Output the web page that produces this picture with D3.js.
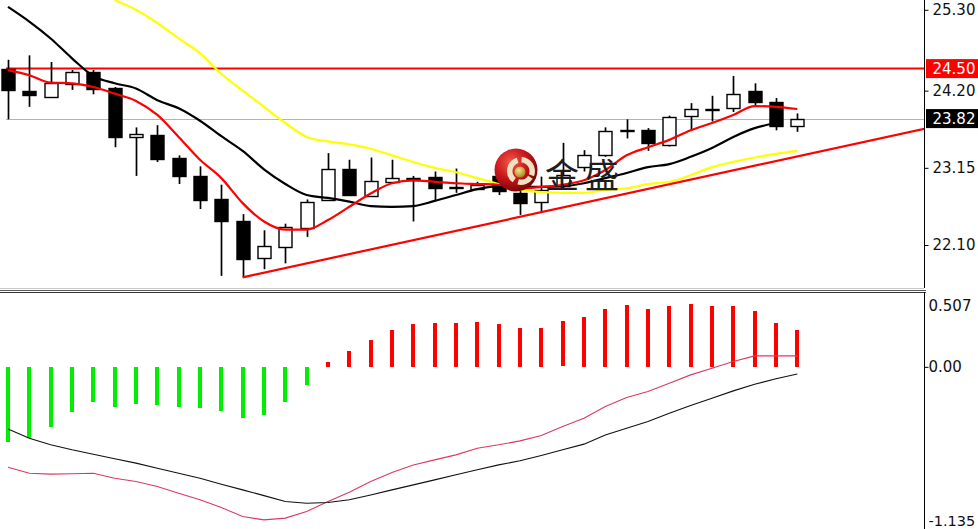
<!DOCTYPE html>
<html><head><meta charset="utf-8">
<script src="https://cdn.jsdelivr.net/npm/d3@7"></script>
<style>body{margin:0;background:#fff;overflow:hidden}svg{display:block}</style>
</head><body><svg id="c" width="978" height="529"></svg>
<script>
// ---------- data ----------
const opens  = [24.49,24.19,24.11,24.29,24.46,24.23,23.57,23.60,23.28,23.04,22.72,22.42,21.92,22.07,22.34,22.71,23.13,22.76,22.95,23.01,23.03,22.89,22.87,23.04,22.81,22.68,22.90,23.16,23.32,23.65,23.66,23.46,23.85,23.95,23.97,24.19,24.04,23.73];
const highs  = [24.62,24.68,24.59,24.48,24.48,24.25,23.70,23.73,23.32,23.17,22.92,22.52,22.30,22.39,22.72,23.35,23.26,23.29,23.26,23.04,23.10,23.14,22.96,23.08,22.85,23.03,23.49,23.39,23.70,23.81,23.69,23.86,24.03,24.13,24.40,24.30,24.10,23.89];
const lows   = [23.81,23.98,24.11,24.21,24.15,23.43,23.04,23.23,22.93,22.59,21.68,21.66,21.77,21.85,22.21,22.71,22.77,22.76,22.95,22.42,22.71,22.81,22.87,22.78,22.51,22.55,22.86,23.10,23.30,23.55,23.38,23.44,23.65,23.78,23.91,24.00,23.66,23.64];
const closes = [24.20,24.13,24.30,24.46,24.23,23.56,23.61,23.28,23.04,22.71,22.42,21.90,22.09,22.34,22.69,23.13,22.77,22.97,23.01,22.98,22.88,22.87,22.92,22.83,22.67,22.85,23.05,23.32,23.65,23.67,23.48,23.84,23.95,23.94,24.16,24.04,23.71,23.82];
const maRed    = [24.48,24.41,24.31,24.30,24.25,24.16,24.06,23.87,23.57,23.26,23.01,22.67,22.42,22.31,22.31,22.44,22.62,22.80,22.94,22.98,22.96,22.94,22.93,22.92,22.87,22.89,22.92,22.98,23.12,23.32,23.43,23.53,23.66,23.76,23.87,23.99,23.98,23.95];
const maBlack  = [25.34,25.14,24.91,24.64,24.40,24.30,24.23,24.07,23.96,23.79,23.58,23.38,23.13,22.93,22.78,22.74,22.69,22.63,22.62,22.63,22.70,22.78,22.86,22.90,22.89,22.89,22.90,22.94,23.01,23.08,23.16,23.20,23.30,23.42,23.57,23.69,23.76];
const maYellow = [null,null,null,null,null,25.43,25.30,25.12,24.91,24.71,24.43,24.20,23.98,23.76,23.57,23.51,23.47,23.41,23.32,23.23,23.15,23.09,23.01,22.93,22.85,22.82,22.81,22.81,22.85,22.87,22.93,22.96,23.05,23.16,23.23,23.29,23.34,23.38];
const macdHist  = [-0.55,-0.525,-0.44,-0.334,-0.26,-0.292,-0.272,-0.28,-0.292,-0.304,-0.324,-0.378,-0.353,-0.26,-0.133,0.039,0.12,0.199,0.272,0.314,0.322,0.322,0.329,0.314,0.289,0.289,0.334,0.368,0.429,0.457,0.429,0.447,0.464,0.447,0.447,0.412,0.324,0.272];
const macdBlack = [-0.457,-0.525,-0.574,-0.611,-0.643,-0.677,-0.709,-0.746,-0.783,-0.82,-0.864,-0.906,-0.948,-0.992,-1.004,-0.999,-0.979,-0.943,-0.906,-0.869,-0.832,-0.795,-0.758,-0.722,-0.692,-0.653,-0.611,-0.569,-0.501,-0.452,-0.403,-0.341,-0.285,-0.231,-0.177,-0.128,-0.088,-0.052];
const macdPink  = [-0.739,-0.783,-0.79,-0.787,-0.783,-0.82,-0.844,-0.881,-0.93,-0.979,-1.036,-1.102,-1.127,-1.114,-1.065,-0.992,-0.923,-0.845,-0.778,-0.722,-0.685,-0.648,-0.599,-0.574,-0.545,-0.506,-0.44,-0.378,-0.292,-0.226,-0.182,-0.12,-0.059,-0.01,0.039,0.081,0.081,0.081];
const priceTicks = [25.30, 24.20, 23.15, 22.10];
const macdTicks  = [0.507, 0.00, -1.135];
const resistanceLevel = 24.50;
const lastPrice = 23.82;
const trendAnchors = [[11, 21.66], [37, 23.305]];
const logoText = ["金", "盛"];

// ---------- layout ----------
const W = 978, H = 529, plotRight = 924, topBottom = 288, lowTop = 292;
const svg = d3.select("#c");
const idx = d3.range(opens.length);
const x = d3.scaleLinear().domain([0, 37]).range([8, 797.3]);
const y = d3.scaleLinear().domain([22.10, 25.30]).range([245, 9.8]);
const ym = d3.scaleLinear().domain([-1.135, 0.507]).range([521, 298]);
const fmt2 = d3.format(".2f");

svg.append("rect").attr("width", W).attr("height", H).attr("fill", "#fff");
const defs = svg.append("defs");
defs.append("clipPath").attr("id", "clipTop").append("rect").attr("x", 0).attr("y", 0).attr("width", plotRight).attr("height", topBottom);
defs.append("clipPath").attr("id", "clipLow").append("rect").attr("x", 0).attr("y", lowTop).attr("width", plotRight).attr("height", H - lowTop);

const topG = svg.append("g").attr("clip-path", "url(#clipTop)");

// grey last-price line
topG.append("line").attr("x1", x(0) - 2).attr("x2", plotRight)
  .attr("y1", Math.round(y(lastPrice)) + 0.5).attr("y2", Math.round(y(lastPrice)) + 0.5)
  .attr("stroke", "#b4b4b4").attr("stroke-width", 1);
// red resistance line
topG.append("line").attr("x1", x(0) - 2).attr("x2", plotRight)
  .attr("y1", y(resistanceLevel)).attr("y2", y(resistanceLevel))
  .attr("stroke", "#ff0000").attr("stroke-width", 2);

// candles
const cg = topG.append("g");
idx.forEach(i => {
  const cx = Math.round(x(i)) + 0.5;
  cg.append("line").attr("x1", cx).attr("x2", cx).attr("y1", y(highs[i])).attr("y2", y(lows[i]))
    .attr("stroke", "#000").attr("stroke-width", 1.7);
  const bull = closes[i] >= opens[i];
  const yt = y(Math.max(opens[i], closes[i])), yb = y(Math.min(opens[i], closes[i]));
  cg.append("rect").attr("x", cx - 6.5).attr("y", Math.round(yt) + 0.5)
    .attr("width", 13).attr("height", Math.max(1, Math.round(yb - yt)))
    .attr("fill", bull ? "#fff" : "#000").attr("stroke", "#000").attr("stroke-width", 1.4);
});

// moving averages
const maLine = d3.line().defined(d => d[1] != null).x(d => x(d[0])).y(d => y(d[1])).curve(d3.curveMonotoneX);
[[maYellow, "#ffff00"], [maBlack, "#000"], [maRed, "#ff0000"]].forEach(([arr, col]) => {
  topG.append("path").attr("d", maLine(arr.map((v, i) => [i, v])))
    .attr("fill", "none").attr("stroke", col).attr("stroke-width", 2.2);
});

// trend line extended to the right edge
const slope = (trendAnchors[1][1] - trendAnchors[0][1]) / (trendAnchors[1][0] - trendAnchors[0][0]);
const iEnd = x.invert(plotRight + 2);
topG.append("line")
  .attr("x1", x(trendAnchors[0][0])).attr("y1", y(trendAnchors[0][1]))
  .attr("x2", x(iEnd)).attr("y2", y(trendAnchors[0][1] + slope * (iEnd - trendAnchors[0][0])))
  .attr("stroke", "#ff0000").attr("stroke-width", 2.2);

// watermark logo
const lg = svg.append("g");
const rg = defs.append("radialGradient").attr("id", "ball").attr("cx", "38%").attr("cy", "32%").attr("r", "70%");
rg.append("stop").attr("offset", "0%").attr("stop-color", "#f05a4a");
rg.append("stop").attr("offset", "55%").attr("stop-color", "#c8141a");
rg.append("stop").attr("offset", "100%").attr("stop-color", "#7a0508");
const cgold = defs.append("radialGradient").attr("id", "coin").attr("cx", "40%").attr("cy", "35%").attr("r", "65%");
cgold.append("stop").attr("offset", "0%").attr("stop-color", "#f4e38a");
cgold.append("stop").attr("offset", "100%").attr("stop-color", "#a8861e");
lg.append("circle").attr("cx", 516).attr("cy", 170).attr("r", 21.5).attr("fill", "url(#ball)");
const arc = d3.arc().innerRadius(8.5).outerRadius(14);
[[-2.5, -0.3], [0.05, 1.95], [2.15, 3.4]].forEach(([a0, a1]) => {
  lg.append("path").attr("transform", "translate(521,171)")
    .attr("d", arc({startAngle: a0, endAngle: a1})).attr("fill", "#efe2c2");
});
lg.append("circle").attr("cx", 520).attr("cy", 172).attr("r", 5.5).attr("fill", "url(#coin)");
lg.selectAll("text.logo").data(logoText).enter().append("text")
  .attr("x", (d, i) => 562 + i * 40).attr("y", 188).attr("text-anchor", "middle")
  .attr("font-family", "Noto Sans CJK SC").attr("font-size", 34).attr("font-weight", 400)
  .attr("fill", "#1e1e1e").text(d => d);

// separators
svg.append("line").attr("x1", 0).attr("x2", plotRight).attr("y1", 288.5).attr("y2", 288.5).attr("stroke", "#c8c8c8");
svg.append("line").attr("x1", 0).attr("x2", plotRight + 2).attr("y1", 290.5).attr("y2", 290.5).attr("stroke", "#5a5a5a");
svg.append("line").attr("x1", 0).attr("x2", plotRight + 2).attr("y1", 292.5).attr("y2", 292.5).attr("stroke", "#333");

// price axis
svg.append("line").attr("x1", plotRight + 0.5).attr("x2", plotRight + 0.5).attr("y1", 0).attr("y2", topBottom).attr("stroke", "#000");
const ax = svg.append("g").attr("transform", `translate(${plotRight + 0.5},0)`)
  .call(d3.axisRight(y).tickValues(priceTicks).tickSize(4).tickPadding(4).tickFormat(fmt2));
ax.select(".domain").remove();
ax.selectAll("text").attr("font-family", "DejaVu Sans, Verdana, sans-serif").attr("font-size", 15).attr("fill", "#111");

// level boxes
[[resistanceLevel, "#ff0000"], [lastPrice, "#000"]].forEach(([v, col]) => {
  const yy = y(v);
  svg.append("rect").attr("x", plotRight + 2).attr("y", yy - 9.5).attr("width", W - plotRight).attr("height", 19).attr("fill", col);
  svg.append("text").attr("x", plotRight + 8.5).attr("y", yy).attr("dy", "0.35em")
    .attr("font-family", "DejaVu Sans, Verdana, sans-serif").attr("font-size", 15).attr("fill", "#fff").text(fmt2(v));
});

// lower panel
const low = svg.append("g").attr("clip-path", "url(#clipLow)");
idx.forEach(i => {
  const v = macdHist[i];
  const cx = Math.round(x(i));
  low.append("rect").attr("x", cx - 2).attr("width", 4)
    .attr("y", Math.round(Math.min(ym(0), ym(v)))).attr("height", Math.max(1, Math.round(Math.abs(ym(v) - ym(0)))))
    .attr("fill", v >= 0 ? "#ff0000" : "#00ee00");
});
const ml = d3.line().x((d, i) => x(i)).y(d => ym(d));
low.append("path").attr("d", ml(macdPink)).attr("fill", "none").attr("stroke", "#d83a62").attr("stroke-width", 1.1);
low.append("path").attr("d", ml(macdBlack)).attr("fill", "none").attr("stroke", "#111").attr("stroke-width", 1.1);

svg.append("line").attr("x1", plotRight + 0.5).attr("x2", plotRight + 0.5).attr("y1", lowTop).attr("y2", H).attr("stroke", "#000");
const ax2 = svg.append("g").attr("transform", `translate(${plotRight + 0.5},0)`)
  .call(d3.axisRight(ym).tickValues(macdTicks).tickSize(4).tickPadding(0)
    .tickFormat(d => d === 0 ? "0.00" : d.toFixed(3)));
ax2.select(".domain").remove();
ax2.selectAll(".tick").filter(d => d !== 0).select("line").remove();
ax2.selectAll("text").attr("font-family", "DejaVu Sans, Verdana, sans-serif")
  .attr("font-size", d => d === -1.135 ? 14.5 : 15).attr("fill", "#111")
  .attr("dy", d => d === 0.507 ? "0.85em" : "0.32em");
</script></body></html>
